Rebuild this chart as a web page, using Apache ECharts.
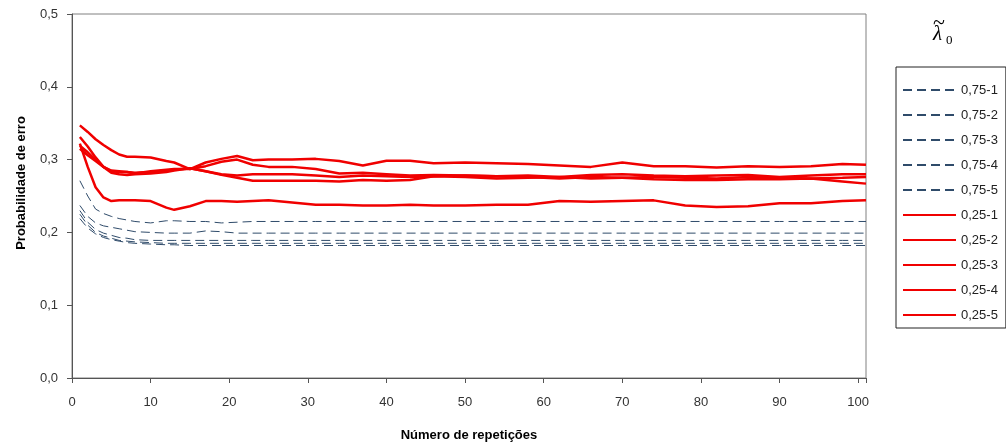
<!DOCTYPE html>
<html><head><meta charset="utf-8">
<script src="https://cdn.jsdelivr.net/npm/echarts@6/dist/echarts.min.js"></script>
<style>html,body{margin:0;padding:0;background:#fff}#c{width:1006px;height:447px}</style>
</head><body><div id="c"></div>
<script>
// Número de repetições (x positions of the read-off points)
const reps = [1,2,3,4,5,6,7,8,10,12,13,15,17,19,21,23,25,28,31,34,37,40,43,46,50,54,58,62,66,70,74,78,82,86,90,94,98,101];

// λ0 = 0,75 (dashed)
const d75_1 = [0.271,0.250,0.232,0.226,0.222,0.219,0.217,0.215,0.213,0.216,0.216,0.215,0.215,0.213,0.214,0.215,0.215,0.215,0.215,0.215,0.215,0.215,0.215,0.215,0.215,0.215,0.215,0.215,0.215,0.215,0.215,0.215,0.215,0.215,0.215,0.215,0.215,0.215];
const d75_2 = [0.237,0.222,0.213,0.209,0.207,0.205,0.203,0.201,0.200,0.199,0.199,0.199,0.202,0.201,0.199,0.199,0.199,0.199,0.199,0.199,0.199,0.199,0.199,0.199,0.199,0.199,0.199,0.199,0.199,0.199,0.199,0.199,0.199,0.199,0.199,0.199,0.199,0.199];
const d75_3 = [0.230,0.214,0.204,0.199,0.196,0.193,0.192,0.190,0.189,0.189,0.189,0.189,0.189,0.189,0.189,0.189,0.189,0.189,0.189,0.189,0.189,0.189,0.189,0.189,0.189,0.189,0.189,0.189,0.189,0.189,0.189,0.189,0.189,0.189,0.189,0.189,0.189,0.189];
const d75_4 = [0.225,0.210,0.200,0.195,0.192,0.189,0.188,0.187,0.186,0.185,0.185,0.185,0.185,0.185,0.185,0.185,0.185,0.185,0.185,0.185,0.185,0.185,0.185,0.185,0.185,0.185,0.185,0.185,0.185,0.185,0.185,0.185,0.185,0.185,0.185,0.185,0.185,0.185];
const d75_5 = [0.219,0.206,0.198,0.193,0.190,0.188,0.186,0.185,0.184,0.183,0.183,0.182,0.182,0.182,0.182,0.182,0.182,0.182,0.182,0.182,0.182,0.182,0.182,0.182,0.182,0.182,0.182,0.182,0.182,0.182,0.182,0.182,0.182,0.182,0.182,0.182,0.182,0.182];

// λ0 = 0,25 (solid red)
const d25_1 = [0.347,0.338,0.328,0.320,0.313,0.307,0.304,0.304,0.303,0.298,0.296,0.287,0.296,0.301,0.305,0.299,0.300,0.300,0.301,0.298,0.292,0.2985,0.2985,0.295,0.296,0.295,0.294,0.292,0.290,0.296,0.291,0.291,0.289,0.291,0.290,0.291,0.294,0.293];
const d25_2 = [0.331,0.318,0.303,0.290,0.284,0.283,0.283,0.281,0.284,0.286,0.287,0.287,0.291,0.297,0.300,0.293,0.290,0.290,0.287,0.281,0.282,0.280,0.278,0.279,0.278,0.277,0.278,0.276,0.279,0.280,0.278,0.277,0.278,0.279,0.276,0.278,0.280,0.280];
const d25_3 = [0.319,0.310,0.300,0.290,0.282,0.280,0.279,0.280,0.281,0.283,0.285,0.288,0.284,0.280,0.278,0.280,0.280,0.280,0.278,0.276,0.278,0.277,0.276,0.277,0.276,0.274,0.275,0.276,0.274,0.275,0.276,0.275,0.274,0.276,0.275,0.274,0.275,0.276];
const d25_4 = [0.315,0.306,0.298,0.290,0.285,0.284,0.283,0.282,0.283,0.285,0.286,0.288,0.284,0.279,0.275,0.271,0.271,0.271,0.271,0.270,0.272,0.271,0.272,0.277,0.278,0.277,0.276,0.274,0.276,0.275,0.273,0.272,0.272,0.273,0.273,0.274,0.270,0.267];
const d25_5 = [0.322,0.290,0.262,0.248,0.243,0.244,0.244,0.244,0.243,0.234,0.231,0.236,0.243,0.243,0.242,0.243,0.244,0.241,0.238,0.238,0.237,0.237,0.238,0.237,0.237,0.238,0.238,0.243,0.242,0.243,0.244,0.237,0.235,0.236,0.240,0.240,0.243,0.244];

const names75 = ['0,75-1','0,75-2','0,75-3','0,75-4','0,75-5'];
const names25 = ['0,25-1','0,25-2','0,25-3','0,25-4','0,25-5'];
const vals75 = [d75_1,d75_2,d75_3,d75_4,d75_5];
const vals25 = [d25_1,d25_2,d25_3,d25_4,d25_5];

const FONT = '"Liberation Sans", Arial, sans-serif';
const pair = v => reps.map((x,i)=>[x,v[i]]);

const series = [];
vals75.forEach((v,i)=>series.push({
  name: names75[i], type:'line', data: pair(v), symbol:'none', smooth:false,
  lineStyle:{color:'#2f4b6a', width:1, type:[9,5]}, itemStyle:{color:'#2f4b6a'}, z:2
}));
vals25.forEach((v,i)=>series.push({
  name: names25[i], type:'line', data: pair(v), symbol:'none', smooth:false,
  lineStyle:{color:'#f00000', width:2.5, type:'solid'}, itemStyle:{color:'#f00000'}, z:3
}));

const chart = echarts.init(document.getElementById('c'), null, {renderer:'canvas'});
chart.setOption({
  animation:false,
  backgroundColor:'#fff',
  grid:{left:72, right:140, top:14, bottom:67, show:true, borderColor:'#808080', borderWidth:1},
  xAxis:{
    type:'value', min:0, max:101, interval:10,
    name:'Número de repetições', nameLocation:'middle', nameGap:51,
    nameTextStyle:{fontFamily:FONT, fontWeight:'bold', fontSize:13, color:'#000'},
    axisLine:{show:true, lineStyle:{color:'#555', width:1}},
    axisTick:{show:true, length:5, lineStyle:{color:'#555'}},
    axisLabel:{fontFamily:FONT, fontSize:13, color:'#333', margin:18,
      formatter: v => (v % 10 === 0 ? String(v) : '')},
    splitLine:{show:false}
  },
  yAxis:{
    type:'value', min:0, max:0.5, interval:0.1,
    name:'Probabilidade de erro', nameLocation:'middle', nameGap:44, nameRotate:90,
    nameTextStyle:{fontFamily:FONT, fontWeight:'bold', fontSize:13, color:'#000', padding:[0,0,0,26]},
    axisLine:{show:true, lineStyle:{color:'#555', width:1}},
    axisTick:{show:true, length:5, lineStyle:{color:'#555'}},
    axisLabel:{fontFamily:FONT, fontSize:13, color:'#333', margin:14,
      formatter: v => v.toFixed(1).replace('.',',')},
    splitLine:{show:false}
  },
  legend:{
    orient:'vertical', left:896, top:67,
    data:[...names75, ...names25],
    itemWidth:53, itemHeight:14, itemGap:11,
    padding:[16,8,6,6],
    borderColor:'#222', borderWidth:1,
    itemStyle:{opacity:0},
    textStyle:{fontFamily:FONT, fontSize:13, color:'#222', lineHeight:14}
  },
  graphic:[
    {type:'text', left:933, top:12, style:{text:'~', font:'22px "Liberation Serif", serif', fill:'#000'}},
    {type:'text', left:933, top:24, style:{text:'λ', font:'italic 21px "Liberation Serif", serif', fill:'#000'}},
    {type:'text', left:946, top:34, style:{text:'0', font:'13px "Liberation Serif", serif', fill:'#000'}}
  ],
  series: series
});
</script>
</body></html>
